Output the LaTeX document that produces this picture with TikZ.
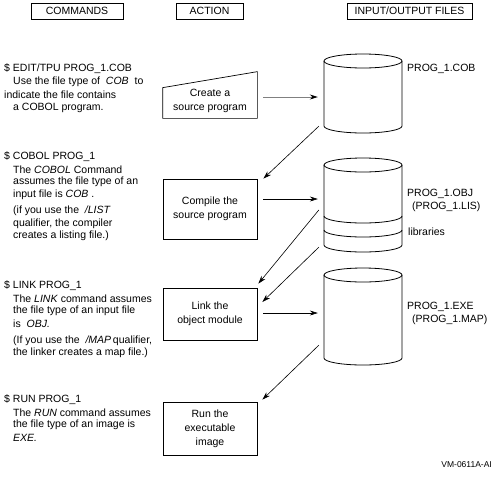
\documentclass[tikz,border=0pt]{standalone}
\usepackage{fontspec}
\setmainfont{Liberation Sans}
\usetikzlibrary{arrows.meta}
\newcommand\drawcyl[2]{%
  \draw[cylline] (363,#1) ellipse [x radius=39pt, y radius=7pt];
  \draw[cylline] (324,#1) -- (324,#2) arc [start angle=180, end angle=360, x radius=39pt, y radius=7pt] -- (402,#1);}
\begin{document}
\begin{tikzpicture}[x=1pt,y=-1pt,
  every node/.style={font=\fontsize{10.5}{12.5}\selectfont, inner sep=0pt},
  hdr/.style={draw, line width=0.8pt, minimum height=16pt},
  actbox/.style={draw, line width=0.7pt, align=center, minimum width=94pt, font=\fontsize{10.5}{13.8}\selectfont},
  boxline/.style={line width=0.7pt},
  txt/.style={anchor=west},
  arr/.style={line width=0.6pt, -{Stealth[length=8pt,width=5pt]}},
  arrg/.style={line width=0.8pt, gray, -{Stealth[length=8pt,width=5pt,color=black]}},
  cylline/.style={line width=0.8pt},
  hole/.style={minimum width=78pt}
]
\useasboundingbox (0,0) rectangle (494,480);

% headers
\node[hdr, minimum width=92pt] (hcmd) at (77,11) {COMMANDS};
\node[hdr, minimum width=67pt] (hact) at (209.5,11) {ACTION};
\node[hdr, minimum width=125pt] (hio) at (409.5,11) {INPUT/OUTPUT FILES};

% commands column
\node[txt] (c1a) at (4,69) {\$ EDIT/TPU PROG\_1.COB};
\node[txt] (c1b) at (13,82) {Use the file type of \ \textit{COB} \ to};
\node[txt] (c1c) at (4,95) {indicate the file contains};
\node[txt] (c1d) at (13,108) {a COBOL program.};

\node[txt] (c2a) at (4,157) {\$ COBOL PROG\_1};
\node[txt] (c2b) at (13,170) {The \textit{COBOL} Command};
\node[txt] (c2c) at (13,182) {assumes the file type of an};
\node[txt] (c2d) at (13,195) {input file is \textit{COB} .};
\node[txt] (c2e) at (13,211) {(if you use the \ \textit{/LIST}};
\node[txt] (c2f) at (13,224) {qualifier, the compiler};
\node[txt] (c2g) at (13,236) {creates a listing file.)};

\node[txt] (c3a) at (4,286) {\$ LINK PROG\_1};
\node[txt] (c3b) at (13,299) {The \textit{LINK} command assumes};
\node[txt] (c3c) at (13,311) {the file type of an input file};
\node[txt] (c3d) at (13,324) {is \ \textit{OBJ.}};
\node[txt] (c3e) at (13,341) {(If you use the \ \textit{/MAP}\,qualifier,};
\node[txt] (c3f) at (13,353) {the linker creates a map file.)};

\node[txt] (c4a) at (4,400) {\$ RUN PROG\_1};
\node[txt] (c4b) at (13,413) {The \textit{RUN} command assumes};
\node[txt] (c4c) at (13,425) {the file type of an image is};
\node[txt] (c4d) at (13,438) {\textit{EXE.}};

% action column
\node[actbox, draw=none, minimum height=34pt] (create) at (210,101) {Create a\\source program};
\draw[boxline] (create.south west) -- ([yshift=-4pt]create.north west) -- ([yshift=12pt]create.north east) -- (create.south east) -- cycle;
\node[actbox, minimum height=60pt] (compile) at (210,209) {Compile the\\source program};
\node[actbox, minimum height=52pt] (link) at (210,314) {Link the\\object module};
\node[actbox, minimum height=53pt] (run) at (210,428.5) {Run the\\executable\\image};

% files column
\drawcyl{61}{126}
\drawcyl{165}{245}
\draw[cylline] (324,216) arc [start angle=180, end angle=360, x radius=39pt, y radius=7pt];
\draw[cylline] (324,230) arc [start angle=180, end angle=360, x radius=39pt, y radius=7pt];
\drawcyl{275}{358}
\node[hole, minimum height=65pt] (cob) at (363,93.5) {};
\node[hole, minimum height=80pt] (obj) at (363,205) {};
\node[hole, minimum height=83pt] (exe) at (363,316.5) {};

\node[txt] (l1) at (407,69) {PROG\_1.COB};
\node[txt] (l2) at (407,194) {PROG\_1.OBJ};
\node[txt] (l3) at (412,207) {(PROG\_1.LIS)};
\node[txt] (l4) at (408,232) {libraries};
\node[txt] (l5) at (407,307) {PROG\_1.EXE};
\node[txt] (l6) at (412,320) {(PROG\_1.MAP)};
\node[anchor=east, font=\fontsize{8.5}{10}\selectfont] (fig) at (492,465) {VM-0611A-AI};

% connectors
\coordinate (a1s) at ([shift={(6,-4)}]create.east);
\coordinate (a1e) at (a1s -| cob.west);
\draw[arrg, shorten >=6pt] (a1s) -- (a1e);
\draw[arr] ([xshift=-5pt]cob.south west) -- ([xshift=6pt]compile.north east);
\coordinate (a3s) at ([shift={(6,-10)}]compile.east);
\coordinate (a3e) at (a3s -| obj.west);
\draw[arr, shorten >=6pt] (a3s) -- (a3e);
\draw[arr] ([shift={(-5,5)}]obj.west) -- ([shift={(1,-4)}]link.north east);
\draw[arr] ([shift={(-5,2)}]obj.south west) -- ([shift={(5,-12)}]link.east);
\coordinate (a6s) at ([shift={(6,-1)}]link.east);
\coordinate (a6e) at (a6s -| exe.west);
\draw[arr, shorten >=6pt] (a6s) -- (a6e);
\draw[arr] ([shift={(-5,-13)}]exe.south west) -- ([shift={(5,-2)}]run.north east);
\end{tikzpicture}
\end{document}
